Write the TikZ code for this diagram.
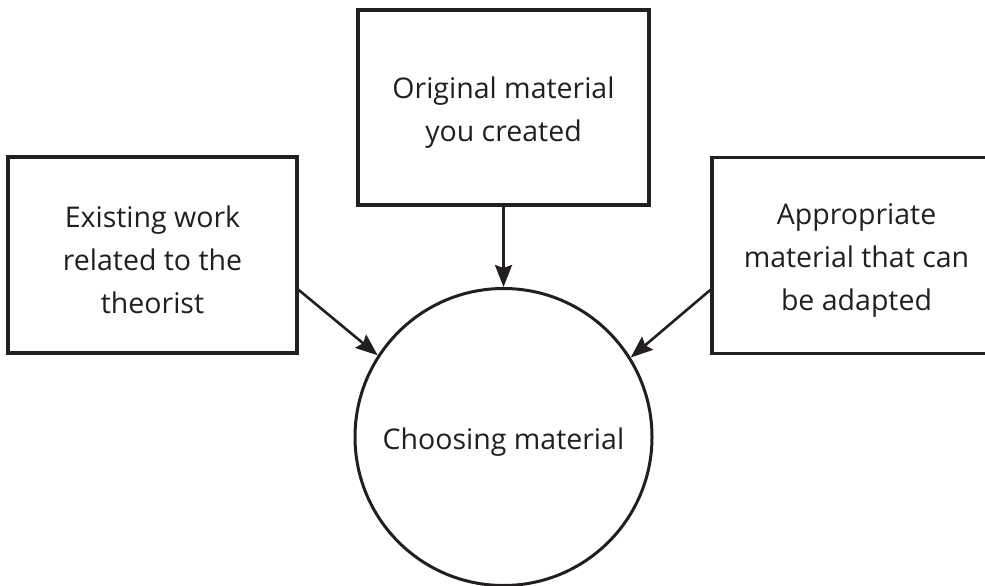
\documentclass[tikz,border=0pt]{standalone}
\usepackage{fontspec}
\setmainfont{Open Sans}
\usetikzlibrary{arrows.meta}
\definecolor{ink}{HTML}{231F20}
\begin{document}
\begin{tikzpicture}[x=1pt,y=-1pt,
  box/.style={draw=ink, line width=3.5pt, rectangle, minimum width=289pt, minimum height=196pt, inner sep=0pt},
  lbl/.style={align=center, text=ink, font=\fontsize{28.5}{43}\selectfont, inner sep=0pt},
  hub/.style={draw=ink, line width=3pt, circle, minimum size=297pt, inner sep=0pt},
  arr/.style={draw=ink, line width=2.6pt, -{Stealth[length=22pt,width=17pt,inset=3pt]}}]
\useasboundingbox (0,0) rectangle (985,586);
\clip (0,0) rectangle (985,586);
\fill[white] (0,0) rectangle (985,586);
\node[box, minimum width=291pt, minimum height=195pt] (top) at (503.5,107.5) {};
\node[lbl] (topt) at (503.5,113) {Original material\\you created};
\node[box] (left) at (152.5,255) {};
\node[lbl] (leftt) at (152.5,260) {Existing work\\related to the\\theorist};
\node[box] (right) at (856.5,255.5) {};
\node[lbl] (rightt) at (856.5,260.5) {Appropriate\\material that can\\be adapted};
\node[hub] (c) at (503.5,437) {};
\node[lbl] (ct) at (503.5,442) {Choosing material};
\draw[arr] (top.south) -- (c.north);
\draw[arr] ([yshift=-35pt]left.east) -- (c.147.5);
\draw[arr] ([yshift=-34.5pt]right.west) -- (c.32.4);
\end{tikzpicture}
\end{document}
